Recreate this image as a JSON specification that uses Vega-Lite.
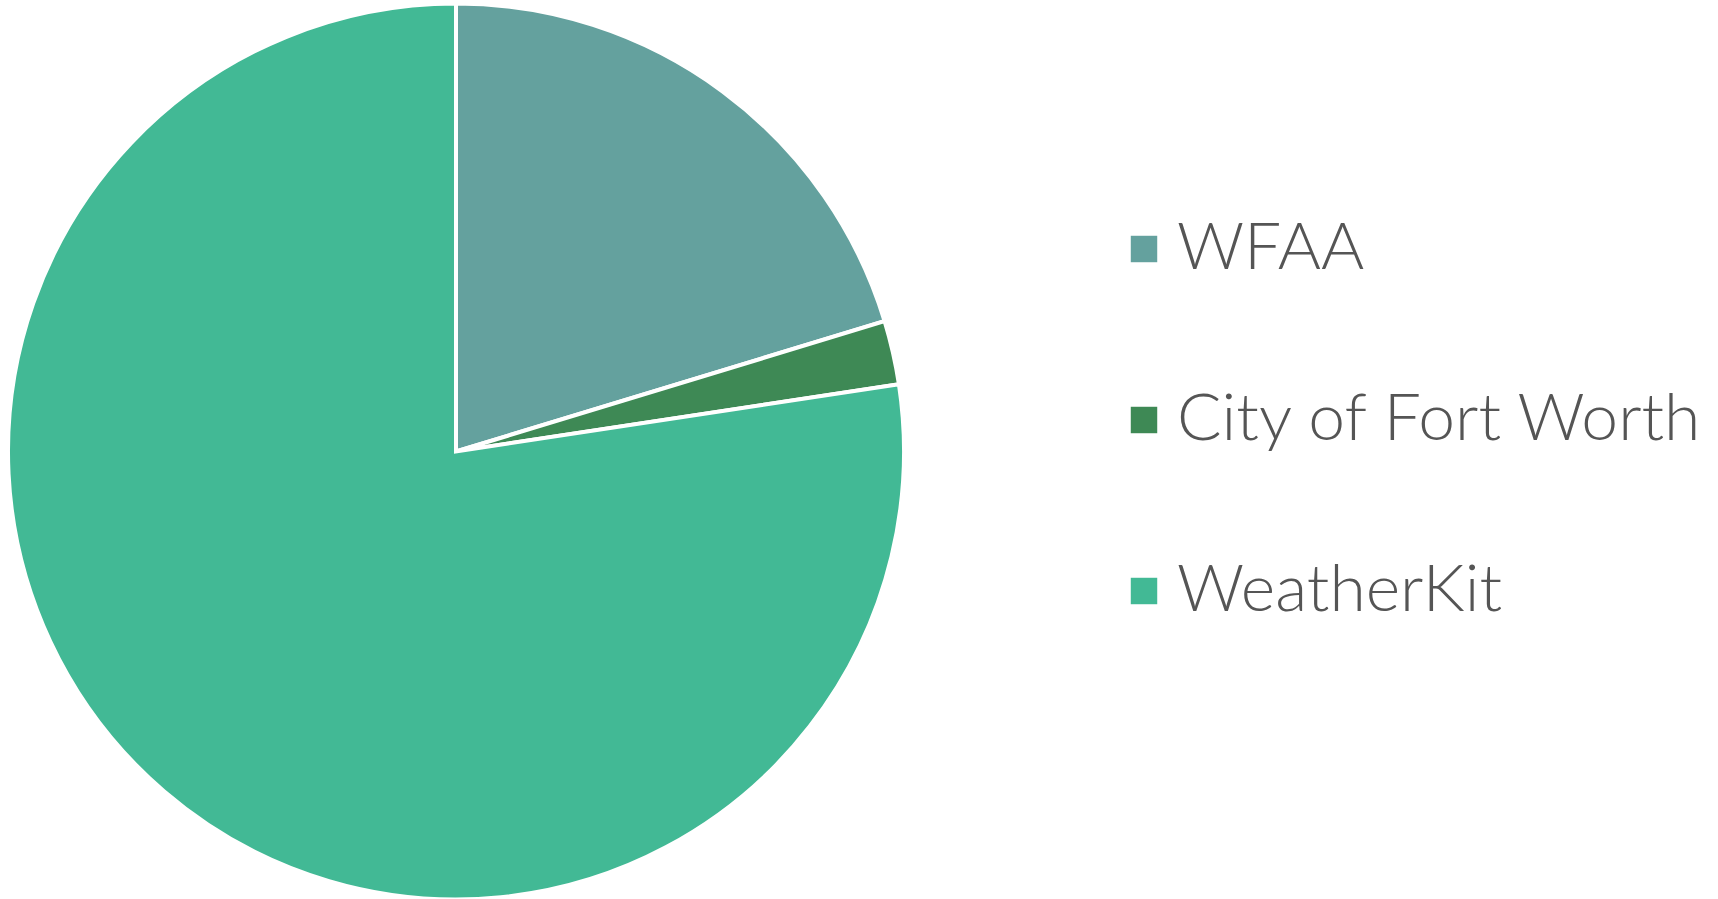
{
  "$schema": "https://vega.github.io/schema/vega-lite/v6.json",
  "width": 912,
  "height": 903,
  "autosize": {"type": "none"},
  "padding": {"left": 0, "top": 0, "right": 806, "bottom": 0},
  "background": "white",
  "view": {"stroke": null},
  "data": {
    "values": [
      {"source": "WFAA", "share": 20.3, "rank": 1},
      {"source": "City of Fort Worth", "share": 2.3, "rank": 2},
      {"source": "WeatherKit", "share": 77.4, "rank": 3}
    ]
  },
  "mark": {"type": "arc", "radius": 448, "stroke": "white", "strokeWidth": 4},
  "encoding": {
    "theta": {"field": "share", "type": "quantitative", "stack": true},
    "order": {"field": "rank", "type": "quantitative"},
    "color": {
      "field": "source",
      "type": "nominal",
      "scale": {
        "domain": ["WFAA", "City of Fort Worth", "WeatherKit"],
        "range": ["#64A19E", "#3E8955", "#42B995"]
      },
      "legend": {
        "title": null,
        "orient": "none",
        "legendX": 1111,
        "legendY": 216,
        "symbolType": "square",
        "symbolSize": 700,
        "symbolStrokeWidth": 0,
        "labelFontSize": 66,
        "labelFont": "Lato",
        "labelFontWeight": 300,
        "labelColor": "#555555",
        "labelOffset": 0,
        "rowPadding": 105,
        "labelLimit": 800
      }
    }
  }
}
